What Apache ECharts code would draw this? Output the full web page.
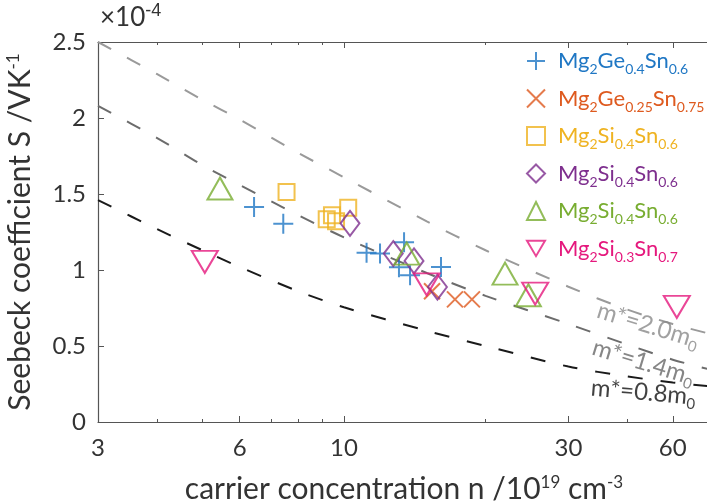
<!DOCTYPE html>
<html>
<head>
<meta charset="utf-8">
<script src="https://cdn.jsdelivr.net/npm/echarts@6/dist/echarts.min.js"></script>
<style>
html, body { margin: 0; padding: 0; background: #fff; }
#chart { width: 707px; height: 502px; }
</style>
</head>
<body>
<div id="chart"></div>
<script>
// n in 10^19 cm^-3, S in 10^-4 V/K
const FONT = 'Lato';

const geSn06N = [6.44, 7.43, 11.17, 11.93, 13.42, 13.09, 13.82, 16.08];
const geSn06S = [1.414, 1.305, 1.113, 1.108, 1.182, 1.018, 0.965, 1.02];

const geSn075N = [15.39, 17.22, 18.71];
const geSn075S = [0.86, 0.807, 0.807];

const siSnAN = [7.55, 9.19, 9.43, 9.62, 10.21];
const siSnAS = [1.513, 1.334, 1.36, 1.32, 1.409];

const siSnBN = [10.30, 12.73, 14.09, 15.8];
const siSnBS = [1.307, 1.108, 1.06, 0.888];

const siSnCN = [5.45, 13.6, 22.0, 24.66];
const siSnCS = [1.536, 1.108, 0.976, 0.834];

const si03N = [5.06, 14.99, 25.5, 51.0];
const si03S = [1.053, 0.905, 0.845, 0.757];

// single parabolic band curves
const curveN = [3, 4, 5, 6, 8, 10, 15, 20, 30, 40, 50, 60];
const m20S = [2.50, 2.29, 2.12, 1.99, 1.77, 1.61, 1.32, 1.13, 0.89, 0.74, 0.645, 0.58];
const m14S = [2.08, 1.87, 1.69, 1.56, 1.36, 1.215, 0.98, 0.83, 0.645, 0.51, 0.41, 0.345];
const m08S = [1.46, 1.27, 1.13, 1.02, 0.86, 0.755, 0.60, 0.50, 0.365, 0.30, 0.26, 0.235];

const majorTicks = [3, 6, 10, 30, 50];
const minorTicks = [4, 5, 7, 8, 9, 20, 40];

const legendLabels = {
    'Mg2Ge0.4Sn0.6': '{f|Mg}{s|2}Ge{s|0.4}Sn{s|0.6}',
    'Mg2Ge0.25Sn0.75': '{f|Mg}{s|2}Ge{s|0.25}Sn{s|0.75}',
    'Mg2Si0.4Sn0.6 a': '{f|Mg}{s|2}Si{s|0.4}Sn{s|0.6}',
    'Mg2Si0.4Sn0.6 b': '{f|Mg}{s|2}Si{s|0.4}Sn{s|0.6}',
    'Mg2Si0.4Sn0.6 c': '{f|Mg}{s|2}Si{s|0.4}Sn{s|0.6}',
    'Mg2Si0.3Sn0.7': '{f|Mg}{s|2}Si{s|0.3}Sn{s|0.7}'
};
const colors = ['#1f77c4', '#de5a1f', '#efb322', '#7e2f8e', '#78ad31', '#e5187d'];

const zip = (a, b) => a.map((v, i) => [v, b[i]]);

function markers(name, ns, ss, symbol, size, color, rotate) {
    return {
        type: 'scatter',
        name: name,
        data: zip(ns, ss),
        symbol: symbol,
        symbolSize: size,
        symbolRotate: rotate || 0,
        symbolKeepAspect: true,
        itemStyle: { color: 'transparent', borderColor: color, borderWidth: 2 },
        emphasis: { disabled: true },
        z: 5
    };
}

function curve(ss, color) {
    return {
        type: 'line',
        data: zip(curveN, ss),
        symbol: 'none',
        smooth: 0.3,
        silent: true,
        lineStyle: { color: color, width: 2, type: [15, 18] },
        z: 2
    };
}

const subRich = {
    f: { fontSize: 22, padding: [0, 0, 0, 8] },
    s: { fontSize: 14, padding: [17, 0, 0, 0] }
};

const chart = echarts.init(document.getElementById('chart'));

const option = {
    animation: false,
    textStyle: { fontFamily: FONT },
    grid: [
        { left: 98, right: -3, top: 42, bottom: 80, outerBoundsMode: 'none' },
        { left: 98, right: -3, top: 42, bottom: 80, outerBoundsMode: 'none' }
    ],
    xAxis: [{
        type: 'log', logBase: 10, min: 3, max: 60, gridIndex: 0, position: 'bottom',
        axisLine: { lineStyle: { color: '#555', width: 1.2 } },
        axisTick: { inside: true, length: 6, customValues: majorTicks, lineStyle: { color: '#555' } },
        axisLabel: {
            customValues: majorTicks, fontSize: 24, color: '#333', margin: 14, fontFamily: FONT,
            formatter: v => (v === 50 ? '60' : String(v))
        },
        splitLine: { show: false },
        name: 'carrier concentration n /10{p|19} cm{p|-3}',
        nameLocation: 'middle', nameGap: 52,
        nameTextStyle: {
            fontSize: 30, color: '#333', fontFamily: FONT,
            rich: { p: { fontSize: 17, padding: [0, 0, 14, 0] } }
        }
    }, {
        type: 'log', logBase: 10, min: 3, max: 60, gridIndex: 0, position: 'top',
        axisLine: { lineStyle: { color: '#555', width: 1.2 } },
        axisTick: { inside: true, length: 6, customValues: majorTicks, lineStyle: { color: '#555' } },
        axisLabel: { show: false },
        splitLine: { show: false }
    }, {
        type: 'log', logBase: 10, min: 3, max: 60, gridIndex: 1, position: 'bottom',
        axisLine: { show: false },
        axisTick: { inside: true, length: 3, customValues: minorTicks, lineStyle: { color: '#555' } },
        axisLabel: { show: false },
        splitLine: { show: false }
    }, {
        type: 'log', logBase: 10, min: 3, max: 60, gridIndex: 1, position: 'top',
        axisLine: { show: false },
        axisTick: { inside: true, length: 3, customValues: minorTicks, lineStyle: { color: '#555' } },
        axisLabel: { show: false },
        splitLine: { show: false }
    }],
    yAxis: [{
        type: 'value', min: 0, max: 2.5, interval: 0.5, gridIndex: 0,
        axisLine: { show: true, lineStyle: { color: '#555', width: 1.2 } },
        axisTick: { show: true, inside: true, length: 6, lineStyle: { color: '#555' } },
        axisLabel: { fontSize: 24, color: '#333', margin: 12, fontFamily: FONT },
        splitLine: { show: false },
        name: 'Seebeck coefficient S /VK{p|-1}',
        nameLocation: 'middle', nameGap: 62,
        nameTextStyle: {
            fontSize: 30, color: '#333', fontFamily: FONT,
            rich: { p: { fontSize: 17, padding: [0, 0, 14, 0] } }
        }
    }, {
        type: 'value', min: 0, max: 2.5, gridIndex: 1, show: false
    }],
    legend: {
        orient: 'vertical', left: 526, top: 50, itemGap: 11, padding: 0,
        itemWidth: 18, itemHeight: 18,
        itemStyle: { borderWidth: 2 },
        formatter: name => legendLabels[name],
        textStyle: { fontSize: 22, fontFamily: FONT, rich: subRich },
        data: Object.keys(legendLabels).map((k, i) => {
            const item = { name: k, textStyle: { color: colors[i] } };
            if (i === 5) item.icon = 'path://M0,0L20,0L10,17Z';
            return item;
        })
    },
    graphic: [{
        type: 'text', left: 100, top: 2,
        style: {
            text: '×10{p|-4}', fontSize: 26, fontFamily: FONT, fill: '#333',
            rich: { p: { fontSize: 18, padding: [0, 0, 14, 0] } }
        }
    }],
    series: [
        curve(m20S, '#9a9a9a'),
        curve(m14S, '#6c6c6c'),
        curve(m08S, '#1a1a1a'),
        markers('Mg2Ge0.4Sn0.6', geSn06N, geSn06S, 'path://M0,10L20,10M10,0L10,20', 20, colors[0]),
        markers('Mg2Ge0.25Sn0.75', geSn075N, geSn075S, 'path://M0,0L20,20M20,0L0,20', 16, colors[1]),
        markers('Mg2Si0.4Sn0.6 a', siSnAN, siSnAS, 'rect', 16, colors[2]),
        markers('Mg2Si0.4Sn0.6 b', siSnBN, siSnBS, 'diamond', [19, 25], colors[3]),
        markers('Mg2Si0.4Sn0.6 c', siSnCN, siSnCS, 'triangle', [25, 22], colors[4]),
        markers('Mg2Si0.3Sn0.7', si03N, si03S, 'triangle', [26, 22], colors[5], 180),
        {
            type: 'scatter', symbolSize: 1, silent: true, z: 3,
            itemStyle: { color: 'transparent' },
            label: {
                show: true, position: 'inside', fontSize: 24, fontFamily: FONT,
                rich: { s: { fontSize: 15, padding: [15, 0, 0, 0] } }
            },
            data: [
                { value: [44.3, 0.636], label: { formatter: 'm*=2.0m{s|0}', rotate: -17, color: '#8a8a8a' } },
                { value: [43.3, 0.393], label: { formatter: 'm*=1.4m{s|0}', rotate: -17, color: '#686868' } },
                { value: [43.3, 0.195], label: { formatter: 'm*=0.8m{s|0}', rotate: -5, color: '#111' } }
            ]
        }
    ]
};

chart.setOption(option);
</script>
</body>
</html>
